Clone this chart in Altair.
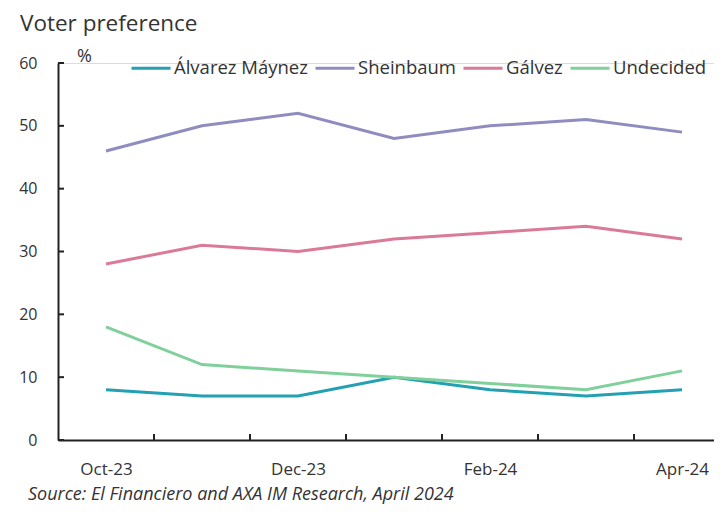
import altair as alt
import pandas as pd

months = ["Oct-23", "Nov-23", "Dec-23", "Jan-24", "Feb-24", "Mar-24", "Apr-24"]
series_names = ["Álvarez Máynez", "Sheinbaum", "Gálvez", "Undecided"]
alvarez = [8, 7, 7, 10, 8, 7, 8]
sheinbaum = [46, 50, 52, 48, 50, 51, 49]
galvez = [28, 31, 30, 32, 33, 34, 32]
undecided = [18, 12, 11, 10, 9, 8, 11]
colors = ["#23a0b2", "#8f8cbf", "#db7a97", "#80d09b"]
y_ticks = [0, 10, 20, 30, 40, 50, 60]
x_tick_pos = [0.5, 1.5, 2.5, 3.5, 4.5, 5.5]
label_idx = [0, 2, 4, 6]

rows = []
for name, vals in zip(series_names, [alvarez, sheinbaum, galvez, undecided]):
    for i, (m, v) in enumerate(zip(months, vals)):
        rows.append({"idx": i, "month": m, "series": name, "value": v})
df = pd.DataFrame(rows)

W, H = 656, 377
FONT = "Open Sans"
TXT = "#333333"

label_expr = "datum.value == 0 ? 'Oct-23' : datum.value == 2 ? 'Dec-23' : datum.value == 4 ? 'Feb-24' : datum.value == 6 ? 'Apr-24' : ''"

x_scale = alt.Scale(domain=[-0.5, 6.333], nice=False, zero=False)
y_scale = alt.Scale(domain=[0, 60], nice=False)

lines = alt.Chart(df).mark_line(strokeWidth=3).encode(
    x=alt.X("idx:Q", scale=x_scale,
            axis=alt.Axis(values=label_idx, labelExpr=label_expr, title=None, grid=False,
                          ticks=False, domainColor="#222222", domainWidth=2,
                          labelFontSize=17, labelFont=FONT, labelColor=TXT, labelPadding=21)),
    y=alt.Y("value:Q", scale=y_scale,
            axis=alt.Axis(values=y_ticks, title=None, grid=False, ticks=False,
                          domainColor="#222222", domainWidth=2,
                          labelFontSize=16, labelFont=FONT, labelColor=TXT, labelPadding=21)),
    color=alt.Color("series:N",
                    scale=alt.Scale(domain=series_names, range=colors),
                    sort=series_names,
                    legend=alt.Legend(orient="none", legendX=72, legendY=-16, direction="horizontal",
                                      title=None, symbolType="stroke", symbolSize=1521,
                                      symbolStrokeWidth=3, labelFontSize=18.5, labelFont=FONT,
                                      labelColor=TXT, columnPadding=1, labelOffset=2)),
    order="idx:Q",
)

ytick_df = pd.DataFrame({"v": y_ticks})
yticks = alt.Chart(ytick_df).mark_rule(color="#222222", strokeWidth=2).encode(
    y=alt.Y("v:Q", scale=y_scale), x=alt.value(0), x2=alt.value(6)
)

xtick_df = pd.DataFrame({"p": x_tick_pos})
xticks = alt.Chart(xtick_df).mark_rule(color="#222222", strokeWidth=2).encode(
    x=alt.X("p:Q", scale=x_scale), y=alt.value(H), y2=alt.value(H - 6)
)

title_df = pd.DataFrame({"t": ["Voter preference"]})
title = alt.Chart(title_df).mark_text(align="left", baseline="alphabetic", fontSize=22.5,
                                      font=FONT, color=TXT).encode(
    text="t:N", x=alt.value(-38), y=alt.value(-32))

pct_df = pd.DataFrame({"t": ["%"]})
pct = alt.Chart(pct_df).mark_text(align="left", baseline="alphabetic", fontSize=18,
                                  font=FONT, color=TXT).encode(
    text="t:N", x=alt.value(19), y=alt.value(-1))

src_df = pd.DataFrame({"t": ["Source: El Financiero and AXA IM Research, April 2024"]})
src = alt.Chart(src_df).mark_text(align="left", baseline="alphabetic", fontSize=18,
                                  font=FONT, fontStyle="italic", color=TXT).encode(
    text="t:N", x=alt.value(-30), y=alt.value(H + 60))

chart = alt.layer(lines, yticks, xticks, title, pct, src).properties(
    width=W, height=H,
    autosize=alt.AutoSizeParams(type="none"),
    padding={"left": 50, "top": 55, "right": 0, "bottom": 64},
).configure_view(stroke=None).configure(background="white")

chart.save("out.html", embed_options={"renderer": "svg", "actions": False})
